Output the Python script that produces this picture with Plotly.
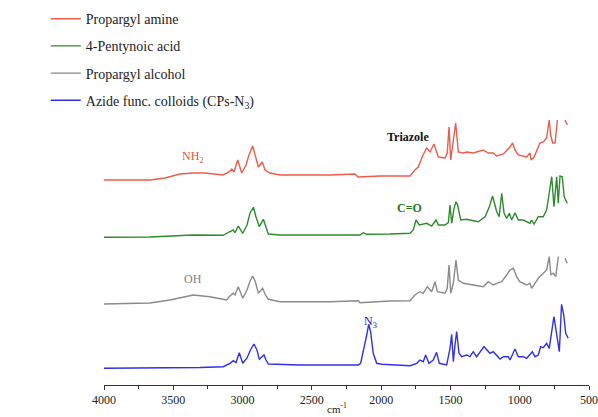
import plotly.graph_objects as go

# ---- data (wavenumber in cm^-1, stacked intensity in arbitrary units) ----
names = ["Propargyl amine", "4-Pentynoic acid", "Propargyl alcohol",
         "Azide func. colloids (CPs-N<sub>3</sub>)"]

amine_wn = [4000, 3668, 3560, 3452, 3358, 3271, 3141, 3098, 3078, 3062, 3035, 3006, 2975, 2954, 2927, 2907,
            2886, 2858, 2838, 2802, 2730, 2586, 2369, 2189, 2167, 2008, 1792, 1756, 1732, 1698, 1671, 1647,
            1619, 1587, 1539, 1523, 1510, 1498, 1479, 1462, 1443, 1407, 1383, 1335, 1263, 1227, 1191, 1166,
            1118, 1070, 1051, 1034, 1010, 950, 926, 918, 897, 854, 830, 806, 787, 777, 762, 745, 728,
            None, 673, 657]
amine_y = [205, 205, 207, 211, 212, 212, 210, 213, 216, 213, 225, 212, 220, 230, 239, 230,
           218, 223, 215, 212, 210, 210, 210, 211, 208, 209, 209, 215, 218, 230, 237, 233,
           241, 228, 227, 232, 258, 225, 242, 262, 233, 232, 233, 232, 235, 232, 232, 229,
           231, 238, 242, 235, 230, 228, 232, 225, 228, 242, 243, 247, 265, 250, 242, 242, 265,
           None, 265, 260]

acid_wn = [4000, 3668, 3358, 3141, 3098, 3067, 3055, 3031, 2999, 2968, 2946, 2922, 2903, 2879, 2850, 2831,
           2814, 2730, 2513, 2297, 2153, 2129, 2104, 1936, 1792, 1768, 1748, 1725, 1671, 1635, 1604, 1587,
           1539, 1515, 1503, 1491, 1474, 1460, 1448, 1426, 1383, 1335, 1299, 1250, 1219, 1196, 1166, 1148,
           1130, 1113, 1094, 1075, 1058, 1034, 1010, 974, 926, 914, 897, 866, 830, 806, 781, 769, 753,
           733, 722, 709, 693, 679, 657]
acid_y = [147.7, 148, 150, 149.7, 153, 155, 152.3, 159, 151.7, 160, 172, 177.7, 168, 158.3, 165.7, 157,
          151, 150, 150, 150, 150, 152.3, 150.7, 151, 151.7, 155, 165, 160, 161.7, 159, 165, 160,
          160, 162.3, 180, 161.7, 176.7, 183.3, 180, 165, 165.7, 164.3, 163.3, 168.3, 178.3, 189, 173.3, 168.3,
          191.7, 171.7, 166.7, 171.7, 165, 172.3, 165, 165, 161.7, 165, 161, 168.3, 168.3, 175, 198.3, 208.3, 178.3,
          208.3, 181.7, 209, 208.3, 188.3, 181.7]

alcohol_wn = [4000, 3668, 3524, 3356, 3235, 3115, 3091, 3067, 3055, 3031, 2999, 2968, 2946, 2927, 2907, 2886,
              2855, 2835, 2814, 2730, 2369, 2165, 2153, 1936, 1792, 1756, 1720, 1696, 1667, 1635, 1611, 1594,
              1539, 1523, 1510, 1498, 1479, 1460, 1443, 1407, 1335, 1263, 1227, 1191, 1166, 1130, 1094, 1070,
              1046, 1022, 1000, 950, 926, 914, 890, 866, 830, 806, 787, 775, 758, 740, 721,
              None, 673, 657]
alcohol_y = [81, 82, 85, 90, 88.3, 85, 89, 91.7, 90, 98.3, 86.7, 95, 104, 109, 103, 91.7,
             96.7, 90, 85.7, 83.3, 83.3, 84.3, 82.3, 84, 84.3, 90, 93.3, 91.7, 98.3, 93.3, 103.3, 93.3,
             91.7, 96.7, 120, 91.7, 101.7, 125, 105, 101.7, 100, 98.3, 103.3, 100, 101.7, 103.3, 110, 115,
             116.7, 108.3, 103.3, 100, 101.7, 96.7, 101.7, 106.7, 111.7, 115, 128.3, 110, 111.7, 108.3, 128.3,
             None, 126.7, 121.7]

azide_wn = [4000, 3668, 3307, 3139, 3091, 3067, 3047, 3024, 2999, 2968, 2943, 2918, 2896, 2879, 2845, 2831,
            2814, 2586, 2297, 2165, 2148, 2129, 2104, 2090, 2076, 2057, 2032, 1996, 1912, 1792, 1743, 1720,
            1696, 1679, 1655, 1624, 1600, 1580, 1527, 1515, 1503, 1491, 1479, 1467, 1455, 1438, 1419, 1383,
            1359, 1335, 1311, 1258, 1238, 1214, 1191, 1166, 1142, 1118, 1082, 1070, 1034, 1010, 974, 950,
            909, 890, 866, 849, 830, 806, 787, 753, 728, 714, 698, 682, 668, 650]
azide_y = [16.7, 17, 17.5, 18.3, 21.7, 24.3, 22.3, 32.3, 21.7, 27, 35, 41, 35, 25.7, 30, 25,
           21, 20, 20, 20, 21.7, 33.3, 50, 60.7, 53.3, 31.7, 21.7, 20.7, 20, 19.3, 21.7, 25,
           23.3, 30, 21.7, 25, 32.7, 21.7, 20, 28.3, 36.7, 50.7, 23.3, 40, 53.3, 31.7, 28.3, 30,
           28.3, 33.3, 28.3, 38.3, 35, 31.7, 33.3, 30, 26, 28.3, 28.3, 25, 36, 28.3, 28.3, 26.7,
           33.3, 28.3, 30, 38.3, 37.3, 41.7, 36.7, 68.3, 46.7, 33.3, 80.7, 70, 51.7, 46.7]

x_ticks = [4000, 3500, 3000, 2500, 2000, 1500, 1000, 500]

series = [(amine_wn, amine_y), (acid_wn, acid_y), (alcohol_wn, alcohol_y), (azide_wn, azide_y)]
colors = ["#EF5B4B", "#2E8B2E", "#8A8A8A", "#3030EE"]

FONT = "Liberation Serif, Times New Roman, serif"

fig = go.Figure()
for i, ((wn, yv), nm, col) in enumerate(zip(series, names, colors)):
    fig.add_trace(go.Scatter(x=wn, y=yv, mode="lines", name=nm, legendgroup=str(i),
                             line=dict(color=col, width=1.4), connectgaps=False))

annots = [
    dict(x=3358, y=228, text="NH<sub>2</sub>", color="#E5533F"),
    dict(x=1806, y=248, text="<b>Triazole</b>", color="#111111"),
    dict(x=1792, y=177, text="<b>C=O</b>", color="#1E7A1E"),
    dict(x=3358, y=106, text="OH", color="#808080"),
    dict(x=2080, y=63, text="N<sub>3</sub>", color="#2020DD"),
]
for a in annots:
    fig.add_annotation(x=a["x"], y=a["y"], text=a["text"], showarrow=False,
                       font=dict(family=FONT, size=12, color=a["color"]))

fig.add_annotation(x=2318, y=-32 / 385, yref="paper", text="cm<sup>-1</sup>", showarrow=False,
                   font=dict(family=FONT, size=11, color="#222"), yanchor="bottom")

fig.update_layout(
    width=598, height=417,
    margin=dict(l=104, r=9, t=0, b=32),
    paper_bgcolor="white", plot_bgcolor="white",
    font=dict(family=FONT, size=12, color="#222"),
    showlegend=True,
    legend=dict(x=-0.12, y=0.992, xanchor="left", yanchor="top", tracegroupgap=6,
                font=dict(family=FONT, size=14, color="#222"), bgcolor="rgba(0,0,0,0)",
                itemwidth=30),
    xaxis=dict(range=[4000, 500], tickvals=x_ticks, ticks="outside", ticklen=4, tickwidth=1,
               tickcolor="#333", showline=True, linecolor="#333", linewidth=1, showgrid=False,
               zeroline=False, tickfont=dict(family=FONT, size=12, color="#222"),
               minor=dict(dtick=250, ticks="outside", ticklen=3, tickcolor="#333")),
    yaxis=dict(range=[0, 385], visible=False, showgrid=False, zeroline=False),
)

fig.write_html("out.html")
